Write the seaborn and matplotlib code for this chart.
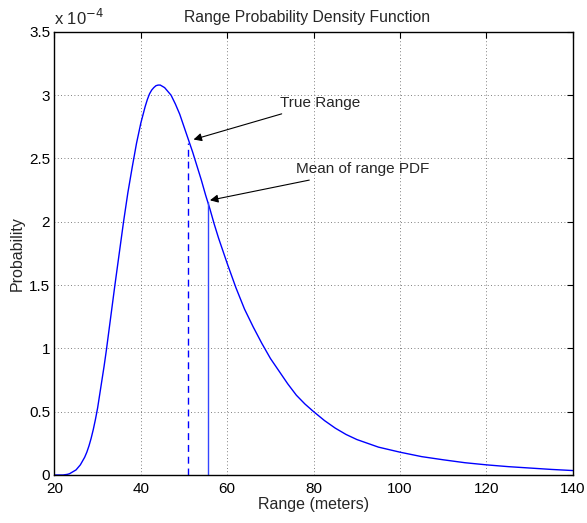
import numpy as np
import pandas as pd
import matplotlib
matplotlib.use("Agg")
import matplotlib.pyplot as plt
import seaborn as sns
from matplotlib.ticker import FuncFormatter

# Data (probability in units of 1e-4)
range_m = [20, 22, 23, 23.5, 24, 24.5, 25, 25.5, 26, 26.5, 27, 27.5, 28, 28.5, 29, 29.5,
           30, 30.5, 31, 31.5, 32, 33, 34, 35, 36, 37, 38, 39,
           40, 41, 41.5, 42, 42.5, 43, 43.5, 44, 44.5, 45, 45.5, 46, 47, 48, 49, 50, 51, 52, 53,
           54, 55, 56, 57, 58, 59, 60, 62, 64, 66, 68, 70, 72, 74, 76, 78, 80,
           82.5, 85, 87.5, 90, 92.5, 95, 97.5, 100, 105, 110, 115, 120, 125, 130, 135, 140]
prob_e4 = [0.0, 0.0, 0.005, 0.01, 0.02, 0.03, 0.04, 0.06, 0.08, 0.11, 0.14, 0.18, 0.23, 0.29,
           0.36, 0.44, 0.53, 0.64, 0.75, 0.86, 0.98, 1.24, 1.50, 1.75, 2.00, 2.23, 2.43, 2.62,
           2.78, 2.91, 2.965, 3.01, 3.04, 3.06, 3.075, 3.08, 3.08, 3.07, 3.06, 3.04, 3.00, 2.93,
           2.85, 2.75, 2.65, 2.55, 2.44, 2.33, 2.21, 2.10, 1.98, 1.87, 1.77, 1.67, 1.48, 1.31,
           1.17, 1.04, 0.92, 0.82, 0.72, 0.63, 0.56, 0.50,
           0.43, 0.37, 0.32, 0.28, 0.25, 0.22, 0.20, 0.18, 0.145, 0.12, 0.097, 0.08, 0.066,
           0.055, 0.044, 0.035]
true_range = 51.0
true_range_pdf = 2.62
mean_range = 55.5
mean_range_pdf = 2.16
x_ticks = [20, 40, 60, 80, 100, 120, 140]
y_ticks = [0, 0.5, 1, 1.5, 2, 2.5, 3, 3.5]

sns.set_style("white")
plt.rcParams["font.family"] = ["Liberation Sans", "DejaVu Sans"]
plt.rcParams["font.size"] = 11

df = pd.DataFrame({"Range": range_m, "Prob": prob_e4})

fig = plt.figure(figsize=(5.87, 5.23), dpi=100)
ax = fig.add_axes([0.0927, 0.0918, 0.976 - 0.0927, 0.939 - 0.0918])

sns.lineplot(data=df, x="Range", y="Prob", ax=ax, color="#0000ff", linewidth=1.0)
ax.plot([true_range, true_range], [0, true_range_pdf], color="#0000ff",
        linestyle=(0, (5, 3.5)), linewidth=1.0)
ax.plot([mean_range, mean_range], [0, mean_range_pdf], color="#3344ff", linewidth=1.0)

ax.set_xlim(20, 140)
ax.set_ylim(0, 3.5)
ax.set_xticks(x_ticks)
ax.set_yticks(y_ticks)
ax.yaxis.set_major_formatter(FuncFormatter(lambda v, p: f"{v:g}"))
ax.tick_params(direction="in", length=4, width=0.8, top=True, right=True,
               labelsize=11, colors="black")
ax.tick_params(axis="x", pad=5)
ax.tick_params(axis="y", pad=3)
ax.grid(True, linestyle=(0, (1, 3)), color="#555555", linewidth=0.6)
for s in ax.spines.values():
    s.set_color("black")
    s.set_linewidth(1.0)

ax.set_xlabel("Range (meters)", fontsize=11.5, labelpad=1)
ax.set_ylabel("Probability", fontsize=11.5, labelpad=3)
ax.set_title("Range Probability Density Function", fontsize=11.3, pad=7, x=0.488)
ax.text(0.0, 1.008, r"x 10$^{-4}$", transform=ax.transAxes, fontsize=12,
        ha="left", va="bottom")

ax.annotate("True Range", xy=(52.2, 2.65), xytext=(72.1, 2.94),
            fontsize=11, va="center", ha="left",
            arrowprops=dict(arrowstyle="-|>", color="black", lw=0.8,
                            shrinkA=2, shrinkB=0, mutation_scale=12))
ax.annotate("Mean of range PDF", xy=(56.0, 2.17), xytext=(75.9, 2.415),
            fontsize=11, va="center", ha="left",
            arrowprops=dict(arrowstyle="-|>", color="black", lw=0.8,
                            shrinkA=2, shrinkB=0, mutation_scale=12))

fig.savefig("out.png", dpi=100)
